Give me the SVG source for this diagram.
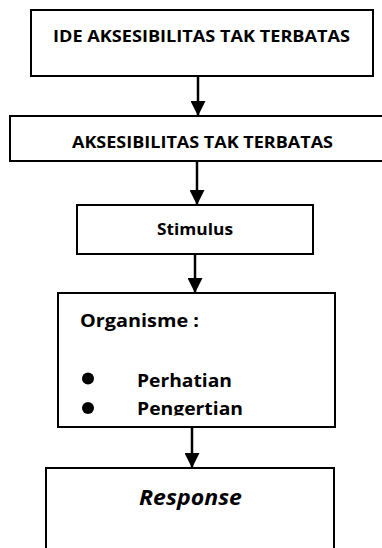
<svg xmlns="http://www.w3.org/2000/svg" width="382" height="548" viewBox="0 0 382 548">
<style>
.box{fill:#fff;stroke:#000;stroke-width:2}
.t{font-family:"Open Sans",Lato,"Liberation Sans",sans-serif;font-weight:bold;fill:#000}
.conn{stroke:#000;stroke-width:2.5;fill:none}
</style>
<defs>
<marker id="ah" markerWidth="6" markerHeight="6" refX="6" refY="3" orient="auto" markerUnits="strokeWidth">
<path d="M0,0 L6,3 L0,6 Z" fill="#000"/>
</marker>
<clipPath id="clipOrg"><rect x="58" y="293" width="277" height="122.5"/></clipPath>
</defs>
<rect width="382" height="548" fill="#fff"/>
<g id="n1">
<rect class="box" x="31" y="10" width="342" height="66"/>
<text class="t" x="53" y="42" font-size="16.5" textLength="297" lengthAdjust="spacingAndGlyphs">IDE AKSESIBILITAS TAK TERBATAS</text>
</g>
<g id="n2">
<rect class="box" x="10" y="116" width="380" height="45"/>
<text class="t" x="72" y="148" font-size="16.5" textLength="261" lengthAdjust="spacingAndGlyphs">AKSESIBILITAS TAK TERBATAS</text>
</g>
<g id="n3">
<rect class="box" x="77" y="205" width="236" height="49"/>
<text class="t" x="157" y="235" font-size="16.5" textLength="76" lengthAdjust="spacingAndGlyphs">Stimulus</text>
</g>
<g id="n4">
<rect class="box" x="58" y="293" width="277" height="134"/>
<text class="t" x="80" y="327" font-size="18.5" textLength="119" lengthAdjust="spacingAndGlyphs">Organisme :</text>
<circle cx="88" cy="378.5" r="6"/>
<circle cx="88" cy="408" r="6"/>
<text class="t" x="137" y="387" font-size="18.5" textLength="95" lengthAdjust="spacingAndGlyphs">Perhatian</text>
<text class="t" x="137" y="415" font-size="18.5" textLength="106" lengthAdjust="spacingAndGlyphs" clip-path="url(#clipOrg)">Pengertian</text>
</g>
<g id="n5">
<rect class="box" x="46" y="468" width="288" height="90"/>
<text class="t" x="139" y="505" font-size="22" font-style="italic" textLength="103" lengthAdjust="spacingAndGlyphs">Response</text>
</g>
<g id="connectors">
<line class="conn" x1="198" y1="76" x2="198" y2="116" marker-end="url(#ah)"/>
<line class="conn" x1="197" y1="161" x2="197" y2="205" marker-end="url(#ah)"/>
<line class="conn" x1="195" y1="254" x2="195" y2="293" marker-end="url(#ah)"/>
<line class="conn" x1="192" y1="427" x2="192" y2="468" marker-end="url(#ah)"/>
</g>
</svg>
